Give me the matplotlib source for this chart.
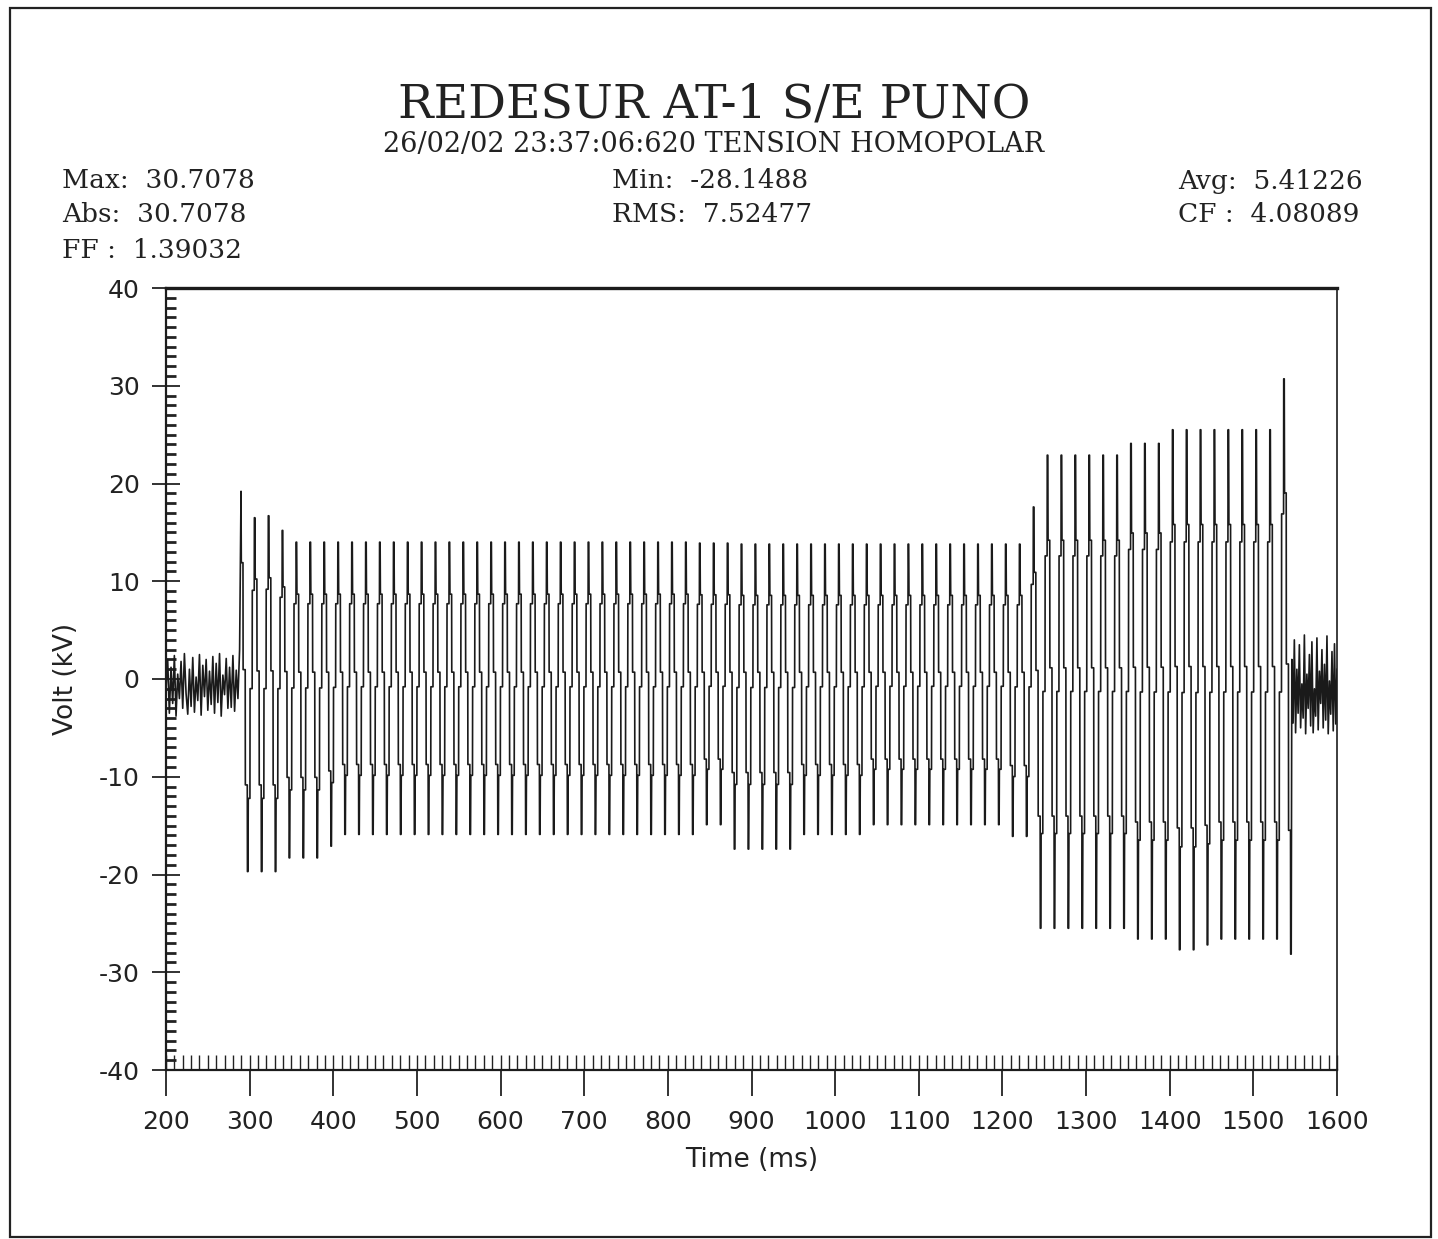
import numpy as np
import matplotlib.pyplot as plt
from matplotlib.ticker import MultipleLocator
from matplotlib.patches import Rectangle

plt.rcParams['axes.unicode_minus'] = False

# record summary printed by the recorder
STAT_MAX = 30.7078
STAT_MIN = -28.1488
STAT_AVG = 5.41226
STAT_ABS = 30.7078
STAT_RMS = 7.52477
STAT_CF = 4.08089
STAT_FF = 1.39032

# pre-fault residual (kV), one sample every 2 ms from 200 ms
PRE_T0, PRE_DT = 200.0, 2.0
PRE_V = [-1.0, 2.0, -3.5, 1.2, -2.5, 2.4, -3.8, 0.5, -2.0, 1.8, -3.0, 2.6,
         -1.5, -3.6, 1.0, -2.8, 2.2, -3.4, 0.2, -2.2, 2.5, -3.7, 1.4, -1.8,
         2.0, -3.2, 0.8, -2.6, 2.3, -3.5, 1.6, -2.4, 2.6, -3.8, 0.4, -1.6,
         2.1, -3.0, 1.2, -2.9, 2.4, -3.3, 0.9, -2.0, 3.0]

# fault: positive crest and negative crest of every cycle (kV)
CYCLE_T0 = 289.7
PERIOD = 16.63
PEAKS = [19.2, 16.5, 16.7, 15.2,
         14.0, 14.0, 14.0, 14.0, 14.0, 14.0, 14.0, 14.0, 14.0, 14.0,
         14.0, 14.0, 14.0, 14.0, 14.0, 14.0, 14.0, 14.0, 14.0, 14.0,
         14.0, 14.0, 14.0, 14.0, 14.0, 14.0, 14.0, 14.0, 14.0, 13.9,
         13.9, 13.9, 13.8, 13.8, 13.8, 13.8, 13.8, 13.8, 13.8, 13.8,
         13.8, 13.8, 13.8, 13.8, 13.8, 13.8, 13.8, 13.8, 13.8, 13.8,
         13.8, 13.8, 13.8,
         17.6,
         22.9, 22.9, 22.9, 22.9, 22.9, 22.9,
         24.1, 24.1, 24.1,
         25.5, 25.5, 25.5, 25.5, 25.5, 25.5, 25.5, 25.5,
         STAT_MAX]
TROUGHS = [-19.7, -19.7, -19.7, -18.3, -18.3, -18.3, -17.1,
           -15.9, -15.9, -15.9, -15.9, -15.9, -15.9, -15.9, -15.9, -15.9,
           -15.9, -15.9, -15.9, -15.9, -15.9, -15.9, -15.9, -15.9, -15.9,
           -15.9, -15.9, -15.9, -15.9, -15.9, -15.9, -15.9, -15.9,
           -14.9, -14.9,
           -17.4, -17.4, -17.4, -17.4, -17.4,
           -15.9, -15.9, -15.9, -15.9, -15.9,
           -14.9, -14.9, -14.9, -14.9, -14.9, -14.9, -14.9, -14.9, -14.9, -14.9,
           -16.1, -16.1,
           -25.5, -25.5, -25.5, -25.5, -25.5, -25.5, -25.5,
           -26.6, -26.6, -26.6,
           -27.7, -27.7, -27.2,
           -26.6, -26.6, -26.6, -26.6, -26.6,
           STAT_MIN]

# post-clearing residual (kV), one sample every 1.5 ms
POST_T0, POST_DT = 1546.0, 1.5
POST_V = [2.0, -4.5, 4.0, -5.5, 1.0, -3.5, 3.5, -5.0, -0.5, -4.0, 4.5, -5.6,
          0.5, -3.0, 2.5, -4.8, 3.8, -5.5, -1.0, -3.8, 4.2, -5.2, 0.8, -2.5,
          3.0, -5.0, 1.5, -4.2, 4.4, -5.6, -0.2, -3.6, 2.8, -5.3, 3.6, -4.6, 1.0]

# stair shape the recorder draws for one cycle (phase, fraction of crest)
SHAPE_PHASE = [0.00, 0.02, 0.14, 0.15, 0.30, 0.31, 0.45, 0.46, 0.50, 0.52,
               0.64, 0.65, 0.80, 0.81, 0.95, 0.96]
SHAPE_FRAC = [1.00, 0.62, 0.62, 0.05, 0.05, -0.55, -0.55, -1.00, -1.00, -0.62,
              -0.62, -0.05, -0.05, 0.55, 0.55, 1.00]

t, v = [], []
for k, val in enumerate(PRE_V):
    t.append(PRE_T0 + k * PRE_DT)
    v.append(val)
last = len(PEAKS) - 1
for i, (pk, tr) in enumerate(zip(PEAKS, TROUGHS)):
    nxt = PEAKS[min(i + 1, last)]
    for ph, fr in zip(SHAPE_PHASE, SHAPE_FRAC):
        if i == last and ph > 0.5:
            break
        # the rising half climbs towards the next cycle's crest
        crest = nxt if ph > 0.5 else pk
        t.append(CYCLE_T0 + (i + ph) * PERIOD)
        v.append(fr * crest if fr > 0 else -fr * tr)
for k, val in enumerate(POST_V):
    t.append(POST_T0 + k * POST_DT)
    v.append(val)

W, H = 1438, 1239
fig = plt.figure(figsize=(W / 100, H / 100), dpi=100)
fig.patches.append(Rectangle((10 / W, 1 - 1237 / H), 1421 / W, 1229 / H,
                             transform=fig.transFigure, fill=False,
                             edgecolor='#222222', linewidth=1.6))

ax = fig.add_axes([166 / W, 1 - 1070 / H, (1337 - 166) / W, (1070 - 288) / H])
ax.plot(t, v, color='#1a1a1a', linewidth=1.2)

ax.set_xlim(200, 1600)
ax.set_ylim(-40, 40)
ax.xaxis.set_major_locator(MultipleLocator(100))
ax.xaxis.set_minor_locator(MultipleLocator(10))
ax.yaxis.set_major_locator(MultipleLocator(10))
ax.yaxis.set_minor_locator(MultipleLocator(1))
ax.xaxis.remove_overlapping_locs = False

sans = 'DejaVu Sans'
ax.tick_params(axis='x', which='major', direction='out', length=19, width=1.3,
               labelsize=18, pad=10, colors='#222222')
ax.tick_params(axis='x', which='minor', direction='in', length=11, width=1.0,
               colors='#222222')
ax.tick_params(axis='y', which='major', direction='inout', length=20, width=1.3,
               labelsize=18, pad=9, colors='#222222')
ax.tick_params(axis='y', which='minor', direction='in', length=7, width=2.0,
               colors='#222222')
for lab in ax.get_xticklabels() + ax.get_yticklabels():
    lab.set_fontfamily(sans)

ax.spines['top'].set_linewidth(2.4)
ax.spines['left'].set_linewidth(1.6)
ax.spines['bottom'].set_linewidth(1.6)
ax.spines['right'].set_linewidth(1.2)
for s in ax.spines.values():
    s.set_color('#1c1c1c')

ax.set_xlabel('Time (ms)', fontsize=19, family=sans, labelpad=9, color='#222222')
ax.set_ylabel('Volt (kV)', fontsize=19, family=sans, labelpad=14, color='#222222')

serif = 'DejaVu Serif'
fig.text(714 / W, 1 - 105 / H, 'REDESUR AT-1 S/E PUNO', ha='center', va='center',
         fontsize=34, family=serif, color='#222222')
fig.text(714 / W, 1 - 145 / H, '26/02/02 23:37:06:620 TENSION HOMOPOLAR',
         ha='center', va='center', fontsize=19.5, family=serif, color='#222222')

stats = [
    (62, 181, f'Max:  {STAT_MAX}'),
    (62, 215, f'Abs:  {STAT_ABS}'),
    (62, 251, f'FF :  {STAT_FF}'),
    (612, 181, f'Min:  {STAT_MIN}'),
    (612, 215, f'RMS:  {STAT_RMS}'),
    (1178, 181, f'Avg:  {STAT_AVG}'),
    (1178, 215, f'CF :  {STAT_CF}'),
]
for x, y, s in stats:
    fig.text(x / W, 1 - y / H, s, ha='left', va='center', fontsize=19,
             family=serif, color='#222222')

fig.savefig('out.png', dpi=100, facecolor='white')
